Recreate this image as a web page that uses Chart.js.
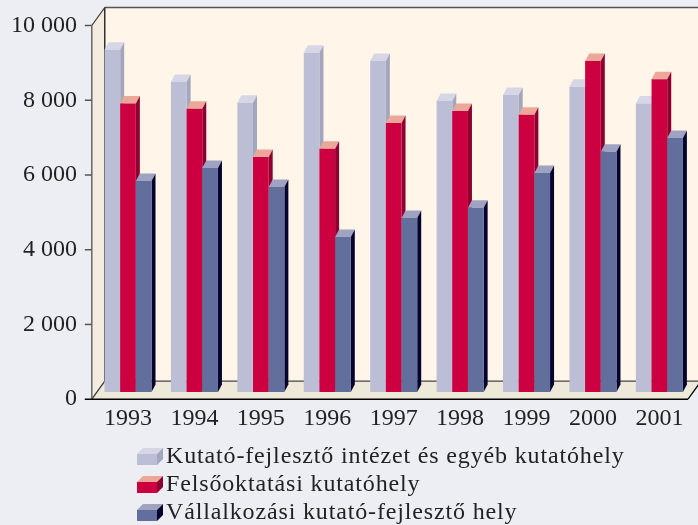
<!DOCTYPE html>
<html>
<head>
<meta charset="utf-8">
<style>
    html, body { margin: 0; padding: 0; background: #ededf4; }
    canvas { display: block; }
</style>
<script src="https://cdn.jsdelivr.net/npm/chart.js@4"></script>
</head>
<body>
<canvas id="chart" width="698" height="525"></canvas>
<script>
const years = ['1993', '1994', '1995', '1996', '1997', '1998', '1999', '2000', '2001'];
const seriesNames = [
    'Kutató-fejlesztő intézet és egyéb kutatóhely',
    'Felsőoktatási kutatóhely',
    'Vállalkozási kutató-fejlesztő hely'
];
const institutes = [9350, 8490, 7930, 9270, 9050, 7980, 8140, 8360, 7910];
const universities = [7910, 7770, 6480, 6700, 7390, 7710, 7610, 9050, 8560];
const companies = [5840, 6190, 5680, 4340, 4850, 5120, 6050, 6620, 6990];
const yTicks = [0, 2000, 4000, 6000, 8000, 10000];

const fronts = ['#bcbed6', '#cc0040', '#626e9b'];
const tops = ['#d6d6e6', '#eba899', '#a0a2c2'];
const sides = ['#a4a6bd', '#8e0030', '#04042e'];

const serif = '"Liberation Serif", serif';

// legend key, the empty strip on the left keeps it centred where the legend puts it
function makeSwatch(i) {
    const c = document.createElement('canvas');
    c.width = 31;
    c.height = 18;
    const g = c.getContext('2d');
    g.translate(5, 0);
    g.fillStyle = fronts[i];
    g.fillRect(0, 6, 20, 11);
    g.fillStyle = tops[i];
    g.beginPath();
    g.moveTo(0, 6); g.lineTo(6, 0); g.lineTo(26, 0); g.lineTo(20, 6);
    g.fill();
    g.fillStyle = sides[i];
    g.beginPath();
    g.moveTo(20, 6); g.lineTo(26, 0); g.lineTo(26, 11); g.lineTo(20, 17);
    g.fill();
    return c;
}
const swatches = fronts.map((_, i) => makeSwatch(i));

function poly(ctx, color, pts) {
    ctx.fillStyle = color;
    ctx.beginPath();
    pts.forEach((p, i) => i ? ctx.lineTo(p[0], p[1]) : ctx.moveTo(p[0], p[1]));
    ctx.closePath();
    ctx.fill();
}

function stroke(ctx, color, width, x1, y1, x2, y2) {
    ctx.strokeStyle = color;
    ctx.lineWidth = width;
    ctx.beginPath();
    ctx.moveTo(x1, y1);
    ctx.lineTo(x2, y2);
    ctx.stroke();
}

function drawBox(chart) {
    const ctx = chart.ctx;
    const y = chart.scales.y;
    const dx = 13, dy = 18;
    const left = chart.chartArea.left - 3;
    const right = chart.chartArea.right - 4.6;
    const top = y.getPixelForValue(10000);
    const bottom = y.getPixelForValue(0);

    poly(ctx, '#fff5e9', [[left + dx, top - dy], [right + dx, top - dy], [right + dx, bottom - dy], [left + dx, bottom - dy]]);
    poly(ctx, '#f3ecdf', [[left, top], [left + dx, top - dy], [left + dx, bottom - dy], [left, bottom]]);
    poly(ctx, '#efe9da', [[left, bottom], [left + dx, bottom - dy], [right + dx, bottom - dy], [right, bottom]]);

    stroke(ctx, '#555', 1.5, left + dx, top - dy, right + dx, top - dy);
    stroke(ctx, '#000', 1.2, left + dx, top - dy, left + dx, bottom - dy);
    stroke(ctx, '#444', 1.2, left + dx, bottom - dy, right + dx, bottom - dy);
    stroke(ctx, '#333', 1.2, left, top, left + dx, top - dy);
    stroke(ctx, '#333', 1.2, left, bottom, left + dx, bottom - dy);
    stroke(ctx, '#000', 1.2, right, bottom, right + dx, bottom - dy);
    stroke(ctx, '#666', 1.5, left, top, left, bottom);
    yTicks.forEach(v => {
        const py = y.getPixelForValue(v);
        stroke(ctx, v === 0 ? '#000' : '#555', 1.5, left - 7, py, v === 0 ? right : left, py);
    });
}

// top and side faces of one series, the library paints the front face
function drawFaces(ctx, meta, i) {
    const w = 4, h = 7.5;
    meta.data.forEach(bar => {
        const p = bar.getProps(['x', 'y', 'base', 'width']);
        const x0 = p.x - p.width / 2, x1 = p.x + p.width / 2;
        poly(ctx, tops[i], [[x0, p.y], [x0 + w, p.y - h], [x1 + w, p.y - h], [x1, p.y]]);
        poly(ctx, sides[i], [[x1, p.y], [x1 + w, p.y - h], [x1 + w, p.base - h], [x1, p.base]]);
    });
}

const box3d = {
    id: 'box3d',
    afterLayout(chart) {
        const legend = chart.legend;
        legend.left = 137;
        legend.top = 441;
        legend.right = 698;
        legend.bottom = 525;
        if (!legend.spaced) {
            const draw = legend.draw;
            legend.draw = function () {
                chart.ctx.letterSpacing = '0.85px';
                draw.call(this);
                chart.ctx.letterSpacing = '0px';
            };
            legend.spaced = true;
        }
    },
    // left series first, so each bar covers the side of its left neighbour
    beforeDatasetsDraw(chart) {
        const ctx = chart.ctx;
        ctx.save();
        drawBox(chart);
        chart.data.datasets.forEach((ds, i) => {
            const meta = chart.getDatasetMeta(i);
            drawFaces(ctx, meta, i);
            meta.controller.draw();
        });
        ctx.restore();
        return false;
    }
};

const dataSeries = [institutes, universities, companies];

new Chart(document.getElementById('chart'), {
    type: 'bar',
    data: {
        labels: years,
        datasets: dataSeries.map((values, i) => ({
            label: seriesNames[i],
            data: values,
            backgroundColor: fronts[i],
            base: 190,
            barPercentage: 1,
            categoryPercentage: 0.708
        }))
    },
    plugins: [box3d],
    options: {
        responsive: false,
        animation: false,
        events: [],
        layout: { padding: { top: 25.5, right: 5.4, bottom: 21 } },
        plugins: {
            tooltip: { enabled: false },
            legend: {
                position: 'bottom',
                align: 'start',
                labels: {
                    usePointStyle: true,
                    pointStyleWidth: 13,
                    padding: 4,
                    color: '#222',
                    font: { family: serif, size: 24, lineHeight: 1 },
                    generateLabels(chart) {
                        return Chart.defaults.plugins.legend.labels.generateLabels(chart)
                            .map(item => ({ ...item, pointStyle: swatches[item.datasetIndex] }));
                    }
                }
            }
        },
        scales: {
            x: {
                grid: { display: false, drawTicks: false },
                border: { display: false },
                ticks: { color: '#222', padding: 5, maxRotation: 0, font: { family: serif, size: 24 } }
            },
            y: {
                min: 0,
                max: 10000,
                afterFit(scale) { scale.width = 94.8; },
                afterBuildTicks(scale) { scale.ticks = yTicks.map(value => ({ value })); },
                grid: { display: false, tickLength: 17.8 },
                border: { display: false },
                ticks: {
                    color: '#222',
                    padding: 0,
                    font: { family: serif, size: 24 },
                    callback: v => String(v).replace(/\B(?=(\d{3})+$)/g, ' ')
                }
            }
        }
    }
});
</script>
</body>
</html>
